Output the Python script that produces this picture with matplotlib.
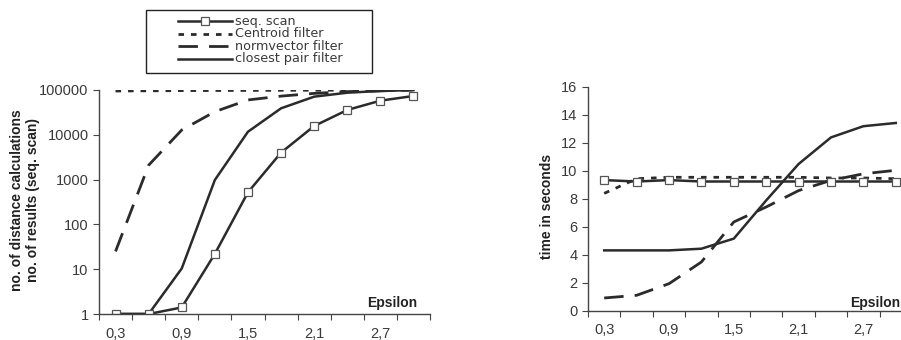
import matplotlib.pyplot as plt
from matplotlib.patches import Rectangle
from matplotlib.lines import Line2D
import numpy as np

# epsilon categories (Excel category axis)
eps = ['0,3', '0,6', '0,9', '1,2', '1,5', '1,8', '2,1', '2,4', '2,7', '3,0']

# left: number of distance calculations (log scale)
calc_seq = [1, 1, 1.4, 22, 520, 4000, 15700, 35800, 57800, 73500]
calc_centroid = [95000, 96000, 97000, 97500, 98000, 98500, 99000, 99000, 99500, 100000]
calc_norm = [25, 2100, 12800, 32800, 60000, 73000, 84000, 92000, 96000, 100000]
calc_closest = [1, 1, 10.4, 980, 11700, 39000, 71000, 87000, 95000, 100000]

# right: time in seconds
time_seq = [9.35, 9.25, 9.35, 9.25, 9.25, 9.25, 9.25, 9.25, 9.25, 9.25]
time_centroid = [8.4, 9.45, 9.55, 9.55, 9.55, 9.55, 9.55, 9.5, 9.5, 9.45]
time_norm = [0.93, 1.12, 1.95, 3.5, 6.36, 7.43, 8.6, 9.33, 9.8, 10.05]
time_closest = [4.33, 4.33, 4.33, 4.45, 5.17, 7.9, 10.5, 12.4, 13.2, 13.43]

labels = ['seq. scan', 'Centroid filter', 'normvector filter', 'closest pair filter']

plt.rcParams['font.family'] = ['Liberation Sans', 'DejaVu Sans']
LINE_C = '#2b2b2b'
TEXT_C = '#3a3a3a'
DOT = (0, (2, 2.5))
DASH = (0, (7, 4))

W, H = 901, 340
fig = plt.figure(figsize=(9.01, 3.4), dpi=100)
ax1 = fig.add_axes([99 / W, 26 / H, 331 / W, 224 / H])
ax2 = fig.add_axes([588 / W, 29 / H, 324 / W, 224 / H])

x = np.arange(len(eps))


def draw_series(ax, seq, centroid, norm, closest):
    ax.plot(x, centroid, color=LINE_C, lw=2, linestyle=DOT)
    ax.plot(x, norm, color=LINE_C, lw=2, linestyle=DASH)
    ax.plot(x, closest, color=LINE_C, lw=1.8)
    ax.plot(x, seq, color=LINE_C, lw=1.8, marker='s', ms=6,
            mfc='white', mec='#555555', mew=0.9)


def style_axis(ax):
    for s in ['top', 'right']:
        ax.spines[s].set_visible(False)
    for s in ['left', 'bottom']:
        ax.spines[s].set_color('#444444')
        ax.spines[s].set_linewidth(1.0)
    ax.set_xlim(-0.5, len(eps) - 0.5)
    ax.set_xticks(np.arange(-0.5, len(eps), 1.0))
    ax.set_xticklabels([])
    ax.set_xticks(x[::2], minor=True)
    ax.set_xticklabels(eps[::2], minor=True)
    ax.tick_params(axis='x', which='major', direction='out', length=4, color='#444444')
    ax.tick_params(axis='x', which='minor', length=0, pad=9, labelsize=10.5, labelcolor=TEXT_C)
    ax.tick_params(axis='y', which='major', direction='out', length=4, color='#444444',
                   labelsize=10.5, labelcolor=TEXT_C)
    ax.tick_params(axis='y', which='minor', length=0)


draw_series(ax1, calc_seq, calc_centroid, calc_norm, calc_closest)
ax1.set_yscale('log')
ax1.set_ylim(1, 100000)
ax1.set_yticks([1, 10, 100, 1000, 10000, 100000])
ax1.set_yticklabels(['1', '10', '100', '1000', '10000', '100000'])
style_axis(ax1)
ax1.set_ylabel('no. of distance calculations\nno. of results (seq. scan)',
               fontsize=10, fontweight='bold', color='#222222', linespacing=1.15)
ax1.yaxis.set_label_coords(-0.178, 0.507)
ax1.text(417 / W, 1 - 303 / H, 'Epsilon', transform=fig.transFigure, ha='right',
         va='center', fontsize=10, fontweight='bold', color='#222222')

draw_series(ax2, time_seq, time_centroid, time_norm, time_closest)
ax2.set_ylim(0, 16)
ax2.set_yticks(np.arange(0, 17, 2))
style_axis(ax2)
ax2.set_ylabel('time in seconds', fontsize=10, fontweight='bold', color='#222222')
ax2.yaxis.set_label_coords(-0.105, 0.469)
ax2.text(900 / W, 1 - 303 / H, 'Epsilon', transform=fig.transFigure, ha='right',
         va='center', fontsize=10, fontweight='bold', color='#222222')

# legend box, drawn by hand to match the original spacing
fig.patches.append(Rectangle((146 / W, 1 - 73 / H), 226 / W, 63 / H,
                             transform=fig.transFigure, fill=False, ec='#222222', lw=1.0))
styles = [dict(ls='-', lw=1.8), dict(ls=DOT, lw=2), dict(ls=DASH, lw=2), dict(ls='-', lw=1.8)]
row_y = [21, 33.5, 46, 58.5]
for lab, st, ry in zip(labels, styles, row_y):
    yy = 1 - ry / H
    fig.add_artist(Line2D([178 / W, 232 / W], [yy, yy], transform=fig.transFigure,
                          color=LINE_C, linestyle=st['ls'], lw=st['lw']))
    fig.text(235 / W, yy, lab, ha='left', va='center', fontsize=9.2, color=TEXT_C,
             family=['DejaVu Sans'])
# square marker on the seq. scan legend line
fig.add_artist(Line2D([205 / W], [1 - row_y[0] / H], transform=fig.transFigure,
                      marker='s', ms=5.5, mfc='white', mec='#555555', mew=0.9, ls='none'))

plt.savefig('out.png', dpi=100)
